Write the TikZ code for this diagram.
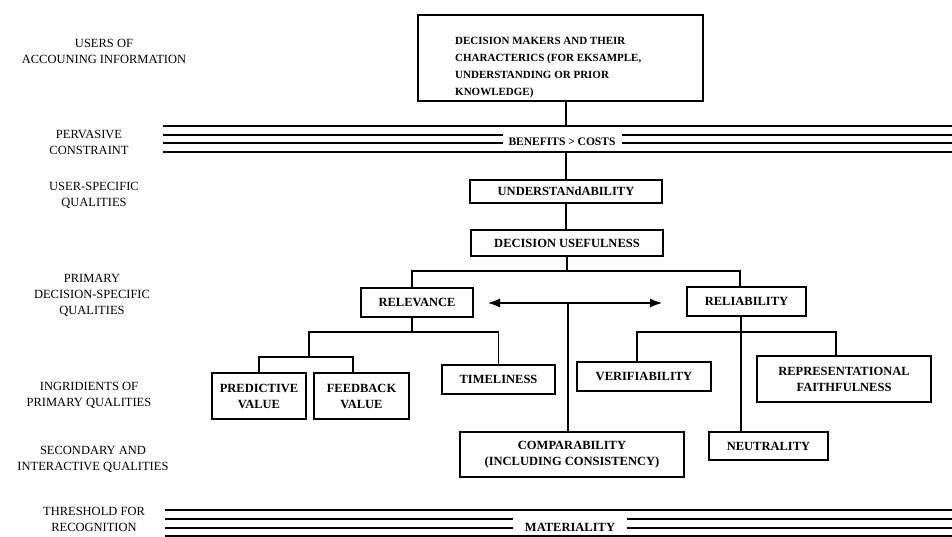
\documentclass[tikz,border=0pt]{standalone}
\usepackage{fontspec}
\setmainfont{Liberation Serif}
\usetikzlibrary{arrows.meta}
\begin{document}
\begin{tikzpicture}[x=1pt,y=-1pt,
  box/.style={draw, line width=1.1pt, font=\fontsize{12.5}{16}\selectfont\bfseries, align=center, inner sep=0pt},
  lab/.style={font=\fontsize{12.5}{16}\selectfont, align=center, inner sep=0pt},
  conn/.style={line width=1.1pt},
  rule/.style={line width=1.1pt},
  ruletext/.style={font=\fontsize{11.5}{14}\selectfont\bfseries, inner sep=0pt}]
\fill[white] (0,0) rectangle (952,537);
\useasboundingbox (0,0) rectangle (952,537);

% ---- left labels
\node[lab] (l1) at (104,51) {USERS OF\\ACCOUNING INFORMATION};
\node[lab] (l2) at (89,142) {PERVASIVE\\CONSTRAINT};
\node[lab] (l3) at (94,195) {USER-SPECIFIC\\QUALITIES};
\node[lab] (l4) at (92,295) {PRIMARY\\DECISION-SPECIFIC\\QUALITIES};
\node[lab] (l5) at (89,395) {INGRIDIENTS OF\\PRIMARY QUALITIES};
\node[lab] (l6) at (93,459) {SECONDARY AND\\INTERACTIVE QUALITIES};
\node[lab] (l7) at (94,519) {THRESHOLD FOR\\RECOGNITION};

% ---- boxes
\node[box, minimum width=285, minimum height=86] (dm) at (560.5,58) {};
\node[anchor=west, align=left, inner sep=0pt, font=\fontsize{11}{17}\selectfont\bfseries] (dmtext) at (455,68)
  {DECISION MAKERS AND THEIR\\CHARACTERICS (FOR EKSAMPLE,\\UNDERSTANDING OR PRIOR\\KNOWLEDGE)};
\node[box, minimum width=192, minimum height=23] (und) at (566,191.5) {UNDERSTANdABILITY};
\node[box, minimum width=192, minimum height=26] (du) at (567,243) {DECISION USEFULNESS};
\node[box, minimum width=112, minimum height=29] (rel) at (417,302.5) {RELEVANCE};
\node[box, minimum width=119, minimum height=29] (rly) at (746.5,301.5) {RELIABILITY};
\node[box, minimum width=94, minimum height=46] (pv) at (259,396) {PREDICTIVE\\VALUE};
\node[box, minimum width=95, minimum height=46] (fv) at (361.5,396) {FEEDBACK\\VALUE};
\node[box, minimum width=113, minimum height=29] (tim) at (498.5,379.5) {TIMELINESS};
\node[box, minimum width=134, minimum height=29] (ver) at (644,376.5) {VERIFIABILITY};
\node[box, minimum width=174, minimum height=46] (rep) at (844,379) {REPRESENTATIONAL\\FAITHFULNESS};
\node[box, minimum width=119, minimum height=28] (neu) at (768.5,446) {NEUTRALITY};
\node[box, minimum width=224, minimum height=45] (comp) at (572,454.5) {COMPARABILITY\\(INCLUDING CONSISTENCY)};

% ---- pervasive constraint rules
\coordinate (pa) at (163,126);
\coordinate (pb) at (163,152);
\draw[rule] (163,126) -- (952,126);
\draw[rule] (163,135) -- (503,135);
\draw[rule] (622,135) -- (952,135);
\draw[rule] (163,143) -- (503,143);
\draw[rule] (622,143) -- (952,143);
\draw[rule] (163,152) -- (952,152);
\node[ruletext] (bc) at (562,142) {BENEFITS > COSTS};

% ---- materiality rules
\draw[rule] (165,510) -- (952,510);
\draw[rule] (165,519) -- (513,519);
\draw[rule] (627,519) -- (952,519);
\draw[rule] (165,528) -- (513,528);
\draw[rule] (627,528) -- (952,528);
\draw[rule] (165,536) -- (952,536);
\node[ruletext, font=\fontsize{12.5}{14}\selectfont\bfseries] (mat) at (570,527) {MATERIALITY};

% ---- connectors
\draw[conn] (und.north |- dm.south) -- (und.north |- pa);
\draw[conn] (und.north |- pb) -- (und.north);
\draw[conn] (und.south) -- (und.south |- du.north);
\coordinate (b1) at (567,271);
\draw[conn] (du.south) -- (du.south |- b1);
\draw[conn] ([xshift=-5pt]rel.north) |- (b1) -| ([xshift=-6.5pt]rly.north);

\coordinate (b2) at (309,332);
\coordinate (b3) at (309,357);
\draw[conn] ([xshift=-5pt]rel.south) -- ([xshift=-5pt]rel.south |- b2);
\draw[conn] (tim.north) |- (b2) -- (b3);
\draw[conn] (pv.north) |- (b3) -| ([xshift=-8.5pt]fv.north);

\coordinate (b4) at (741,332);
\draw[conn] ([xshift=-5.5pt]rly.south) -- ([xshift=-5.5pt]rly.south |- neu.north);
\draw[conn] ([xshift=-7pt]ver.north) |- (b4) -| ([xshift=-8pt]rep.north);

\coordinate (al) at (488,303);
\coordinate (ar) at (662,303);
\coordinate (am) at (568,303);
\draw[conn, {Latex[length=12pt,width=9pt]}-{Latex[length=12pt,width=9pt]}] (al) -- (ar);
\draw[conn] (am) -- (am |- comp.north);
\end{tikzpicture}
\end{document}
